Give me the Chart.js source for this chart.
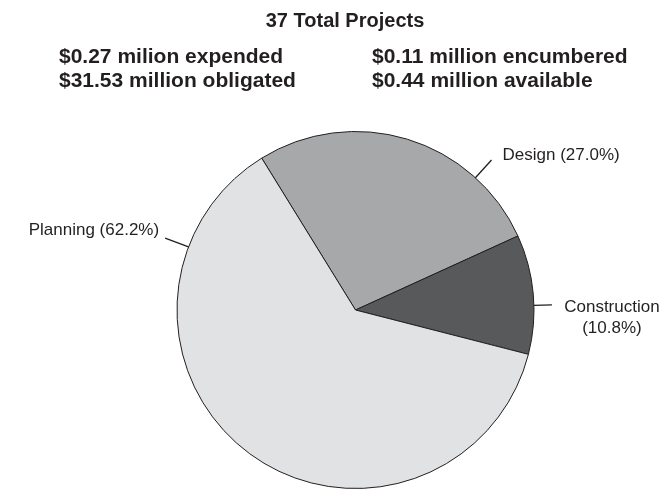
<!DOCTYPE html>
<html>
<head>
<meta charset="utf-8">
<script src="https://cdn.jsdelivr.net/npm/chart.js@4.4.1/dist/chart.umd.min.js"></script>
<style>
  html, body { margin: 0; padding: 0; background: #ffffff; }
  #wrap { position: relative; width: 669px; height: 490px; }
  canvas { display: block; }
</style>
</head>
<body>
<div id="wrap"><canvas id="c" width="669" height="490"></canvas></div>
<script>
// ---- Data ----
const categories = ["Design", "Construction", "Planning"];
const percentages = [27.0, 10.8, 62.2];
const sliceColors = ["#a7a8aa", "#58595b", "#e1e2e4"];
const titleText = "37 Total Projects";
const summaryLeft = ["$0.27 milion expended", "$31.53 million obligated"];
const summaryRight = ["$0.11 million encumbered", "$0.44 million available"];

const FONT = '"Liberation Sans", Arial, Helvetica, sans-serif';
const INK = "#231f20";

// label placement (style): angle in degrees clockwise from top, leader length
const labelStyle = {
  "Design":       { angle: 42.2, len: 24, dx: 11, dy: -5, align: "left" },
  "Construction": { angle: 88.5, len: 18, dx: 60, dy: 2, align: "center" },
  "Planning":     { angle: 290.7, len: 25, dx: -6, dy: -8, align: "right" }
};

const headerPlugin = {
  id: "header",
  afterDraw(chart) {
    const ctx = chart.ctx;
    ctx.save();
    ctx.fillStyle = INK;
    ctx.textBaseline = "alphabetic";
    ctx.font = "bold 20px " + FONT;
    ctx.textAlign = "center";
    ctx.fillText(titleText, 345, 27);
    ctx.font = "bold 21px " + FONT;
    ctx.textAlign = "left";
    summaryLeft.forEach((t, i) => ctx.fillText(t, 59, 63 + i * 24));
    summaryRight.forEach((t, i) => ctx.fillText(t, 372, 63 + i * 24));
    ctx.restore();
  }
};

const labelPlugin = {
  id: "sliceLabels",
  afterDatasetsDraw(chart) {
    const ctx = chart.ctx;
    const meta = chart.getDatasetMeta(0);
    ctx.save();
    ctx.strokeStyle = INK;
    ctx.lineWidth = 1.3;
    ctx.fillStyle = INK;
    ctx.font = "17px " + FONT;
    ctx.textBaseline = "middle";
    meta.data.forEach((arc, i) => {
      const name = categories[i];
      const st = labelStyle[name];
      const a = st.angle * Math.PI / 180;
      const r = arc.outerRadius;
      const sx = arc.x + r * Math.sin(a), sy = arc.y - r * Math.cos(a);
      const ex = arc.x + (r + st.len) * Math.sin(a), ey = arc.y - (r + st.len) * Math.cos(a);
      ctx.beginPath();
      ctx.moveTo(sx, sy);
      ctx.lineTo(ex, ey);
      ctx.stroke();
      const pct = "(" + percentages[i].toFixed(1) + "%)";
      ctx.textAlign = st.align;
      if (name === "Construction") {
        ctx.fillText(name, ex + st.dx, ey + st.dy);
        ctx.fillText(pct, ex + st.dx, ey + st.dy + 21);
      } else {
        ctx.fillText(name + " " + pct, ex + st.dx, ey + st.dy);
      }
    });
    ctx.restore();
  }
};

new Chart(document.getElementById("c"), {
  type: "pie",
  data: {
    labels: categories,
    datasets: [{
      data: percentages,
      backgroundColor: sliceColors,
      borderColor: INK,
      borderWidth: 1
    }]
  },
  options: {
    responsive: false,
    animation: false,
    rotation: -31.7,
    layout: { padding: { top: 131, bottom: 1, left: 152, right: 110 } },
    plugins: {
      legend: { display: false },
      tooltip: { enabled: false },
      title: { display: false }
    }
  },
  plugins: [headerPlugin, labelPlugin]
});
</script>
</body>
</html>
